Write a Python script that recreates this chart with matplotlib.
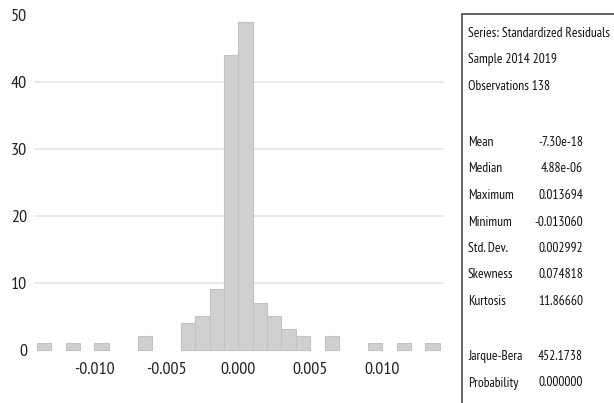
import matplotlib
matplotlib.use("Agg")
import matplotlib.pyplot as plt
from matplotlib.patches import Rectangle

plt.rcParams['font.family'] = ['PT Sans Narrow', 'DejaVu Sans']

# histogram bins (left edges, width 0.001) and counts
bin_left = [-0.014, -0.012, -0.010, -0.007, -0.004, -0.003, -0.002, -0.001,
            0.000, 0.001, 0.002, 0.003, 0.004, 0.006, 0.009, 0.011, 0.013]
counts = [1, 1, 1, 2, 4, 5, 9, 44, 49, 7, 5, 3, 2, 2, 1, 1, 1]
bin_width = 0.001

x_ticks = [-0.010, -0.005, 0.000, 0.005, 0.010]
x_tick_labels = ["-0.010", "-0.005", "0.000", "0.005", "0.010"]
y_ticks = [0, 10, 20, 30, 40, 50]

header_lines = ["Series: Standardized Residuals", "Sample 2014 2019", "Observations 138"]
stat_names = ["Mean", "Median", "Maximum", "Minimum", "Std. Dev.", "Skewness", "Kurtosis"]
stat_values = ["-7.30e-18", "4.88e-06", "0.013694", "-0.013060", "0.002992", "0.074818", "11.86660"]
test_names = ["Jarque-Bera", "Probability"]
test_values = ["452.1738", "0.000000"]

W, H = 614, 403
fig = plt.figure(figsize=(W / 100, H / 100), dpi=100)
ax = fig.add_axes([34 / W, (H - 349.5) / H, (444 - 34) / W, (349.5 - 14.9) / H])

ax.bar(bin_left, counts, width=bin_width, align='edge', color='#d0d0d0',
       edgecolor='#c2c2c2', linewidth=0.8, zorder=2, clip_on=False)

ax.set_xlim(-0.0142, 0.0143)
ax.set_ylim(0, 50)
ax.set_yticks(y_ticks)
ax.set_xticks(x_ticks)
ax.set_xticklabels(x_tick_labels)
ax.tick_params(axis='both', length=0, labelsize=13, colors='#222222')
ax.tick_params(axis='x', pad=9)
ax.tick_params(axis='y', pad=5)
ax.grid(axis='y', color='#e6e6e6', linewidth=1.2, zorder=0)
gl = ax.get_ygridlines()
gl[0].set_visible(False)
gl[-1].set_visible(False)
for s in ax.spines.values():
    s.set_visible(False)

# statistics box
box = Rectangle((462 / W, -0.05), 0.3, (H - 14.3) / H + 0.05, transform=fig.transFigure,
                fill=False, edgecolor='#555555', linewidth=1.3, clip_on=False)
fig.add_artist(box)

fs = 9.7
x_lab = 468 / W
x_val = 583 / W

def fy(py):
    return (H - py) / H

for i, t in enumerate(header_lines):
    fig.text(x_lab, fy(33.3 + 26.7 * i), t, fontsize=fs, va='center', ha='left', color='#111111')
for i, (n, v) in enumerate(zip(stat_names, stat_values)):
    yy = fy(142.5 + 26.5 * i)
    fig.text(x_lab, yy, n, fontsize=fs, va='center', ha='left', color='#111111')
    fig.text(x_val, yy, v, fontsize=fs, va='center', ha='right', color='#111111')
for i, (n, v) in enumerate(zip(test_names, test_values)):
    yy = fy(356.5 + 26.5 * i)
    fig.text(x_lab, yy, n, fontsize=fs, va='center', ha='left', color='#111111')
    fig.text(x_val, yy, v, fontsize=fs, va='center', ha='right', color='#111111')

fig.savefig("out.png", dpi=100)
